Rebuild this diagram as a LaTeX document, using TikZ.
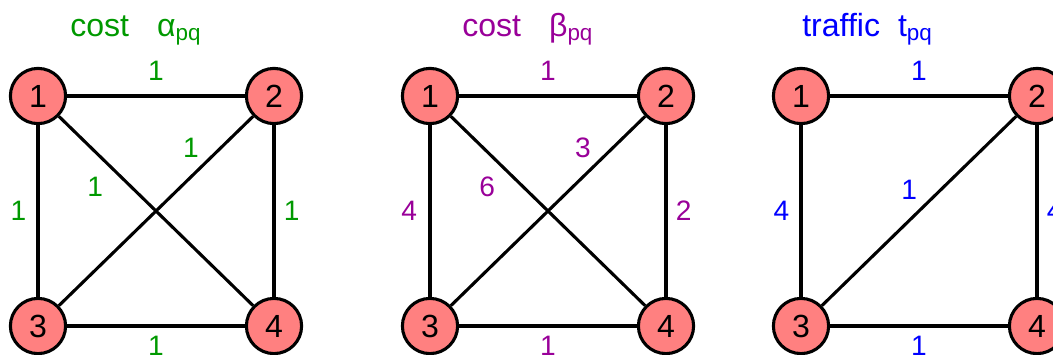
\documentclass[tikz,border=0pt]{standalone}
\usepackage{fontspec}
\setmainfont{Liberation Sans}
\usetikzlibrary{positioning, calc}
\definecolor{vertex-fill}{HTML}{FF8080}
\definecolor{alpha-col}{HTML}{009900}
\definecolor{beta-col}{HTML}{990099}
\definecolor{traffic-col}{HTML}{0000FF}
\tikzset{
  vertex/.style={
    circle, draw=black, fill=vertex-fill, line width=2.2pt,
    minimum size=1.38cm, inner sep=0pt, font=\fontsize{22.8}{26}\selectfont
  },
  link/.style={line width=2.2pt, draw=black},
  wlbl/.style={font=\fontsize{20}{24}\selectfont, inner sep=1pt},
  title/.style={font=\fontsize{22.8}{26}\selectfont, anchor=base west, inner sep=0pt}
}

\begin{document}
\begin{tikzpicture}
  \useasboundingbox (0,0) rectangle (26.325,8.85);

  % ---- cost alpha ----------------------------------------------------------
  \begin{scope}[text=alpha-col]
    \node[title] (ta) at (1.75,7.95) {cost\hspace{0.7cm}α\textsubscript{pq}};
    \node[vertex, text=black] (a1) at (0.95,6.45) {1};
    \node[vertex, text=black] (a2) at (6.85,6.45) {2};
    \node[vertex, text=black] (a3) at (0.95,0.70) {3};
    \node[vertex, text=black] (a4) at (6.85,0.70) {4};
    \draw[link] (a1) -- node[wlbl, above=0.32cm] {1} (a2);
    \draw[link] (a1) -- node[wlbl, left=0.22cm] {1} (a3);
    \draw[link] (a2) -- node[wlbl, right=0.17cm] {1} (a4);
    \draw[link] (a3) -- node[wlbl, below=0.19cm] {1} (a4);
    \draw[link] (a1) -- node[wlbl, pos=0.28, below left=0.12cm and 0.18cm] {1} (a4);
    \draw[link] (a3) -- node[wlbl, pos=0.756, above left=0.05cm and 0.1cm] {1} (a2);
  \end{scope}

  % ---- cost beta -----------------------------------------------------------
  \begin{scope}[xshift=9.8cm, text=beta-col]
    \node[title] (tb) at (1.75,7.95) {cost\hspace{0.7cm}β\textsubscript{pq}};
    \node[vertex, text=black] (b1) at (0.95,6.45) {1};
    \node[vertex, text=black] (b2) at (6.85,6.45) {2};
    \node[vertex, text=black] (b3) at (0.95,0.70) {3};
    \node[vertex, text=black] (b4) at (6.85,0.70) {4};
    \draw[link] (b1) -- node[wlbl, above=0.32cm] {1} (b2);
    \draw[link] (b1) -- node[wlbl, left=0.25cm] {4} (b3);
    \draw[link] (b2) -- node[wlbl, right=0.17cm] {2} (b4);
    \draw[link] (b3) -- node[wlbl, below=0.19cm] {1} (b4);
    \draw[link] (b1) -- node[wlbl, pos=0.28, below left=0.12cm and 0.18cm] {6} (b4);
    \draw[link] (b3) -- node[wlbl, pos=0.756, above left=0.05cm and 0.1cm] {3} (b2);
  \end{scope}

  % ---- traffic -------------------------------------------------------------
  \begin{scope}[xshift=19.075cm, text=traffic-col]
    \node[title] (tc) at (0.975,7.95) {traffic\hspace{0.45cm}t\textsubscript{pq}};
    \node[vertex, text=black] (c1) at (0.95,6.45) {1};
    \node[vertex, text=black] (c2) at (6.85,6.45) {2};
    \node[vertex, text=black] (c3) at (0.95,0.70) {3};
    \node[vertex, text=black] (c4) at (6.85,0.70) {4};
    \draw[link] (c1) -- node[wlbl, above=0.32cm] {1} (c2);
    \draw[link] (c1) -- node[wlbl, left=0.22cm] {4} (c3);
    \draw[link] (c2) -- node[wlbl, right=0.17cm] {4} (c4);
    \draw[link] (c3) -- node[wlbl, below=0.19cm] {1} (c4);
    \draw[link] (c3) -- node[wlbl, pos=0.53, above left=0.06cm and 0.12cm] {1} (c2);
  \end{scope}

\end{tikzpicture}
\end{document}
